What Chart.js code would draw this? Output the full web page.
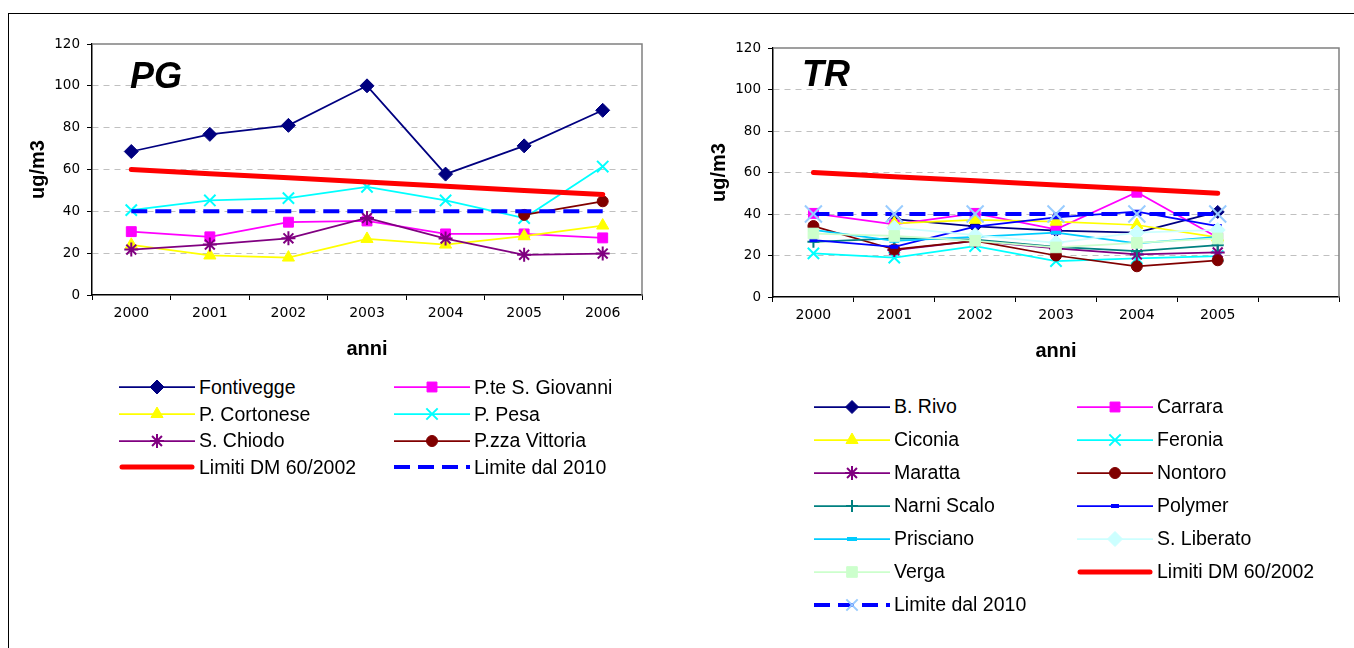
<!DOCTYPE html>
<html>
<head>
<meta charset="utf-8">
<script src="https://cdn.jsdelivr.net/npm/chart.js@4.4.1/dist/chart.umd.min.js"></script>
<style>
html, body { margin: 0; padding: 0; background: #fff; width: 1354px; height: 648px; overflow: hidden; position: relative; }
#cornice { position: absolute; left: 8px; top: 13px; width: 1400px; height: 700px; border: 1.5px solid #000; }
.wrap { position: absolute; top: 0; height: 370px; }
#wrapPG { left: 0; width: 670px; }
#wrapTR { left: 680px; width: 674px; }
.sigla { position: absolute; font: italic bold 36px "Liberation Sans", Arial, sans-serif; line-height: 36px; color: #000; }
.legenda { position: absolute; display: grid; font: 19.5px "Liberation Sans", Arial, sans-serif; color: #000; }
.voce { display: flex; align-items: center; white-space: nowrap; }
.voce canvas { margin-right: 3px; }
</style>
</head>
<body>
<div id="cornice"></div>
<div class="wrap" id="wrapPG"><canvas id="chartPG" width="670" height="370"></canvas></div>
<div class="wrap" id="wrapTR"><canvas id="chartTR" width="674" height="370"></canvas></div>
<div class="sigla" style="left:130px; top:58px;">PG</div>
<div class="sigla" style="left:802px; top:56px;">TR</div>
<div class="legenda" id="legendaPG" style="left:118px; top:374px; grid-template-columns: 275px auto; grid-auto-rows: 26.7px;"></div>
<div class="legenda" id="legendaTR" style="left:813px; top:390px; grid-template-columns: 263px auto; grid-auto-rows: 33px;"></div>

<script>
// anni
const anniPG = ['2000', '2001', '2002', '2003', '2004', '2005', '2006'];
const anniTR = ['2000', '2001', '2002', '2003', '2004', '2005', ''];
const tickY = [0, 20, 40, 60, 80, 100, 120];

// Perugia
const fontivegge = [68.6, 76.8, 81.1, 100, 57.8, 71.3, 88.3];
const pteSGiovanni = [30.3, 27.8, 34.8, 35.4, 29.2, 29.2, 27.3];
const pCortonese = [24, 18.9, 17.9, 26.8, 24.1, 28.1, 33.2];
const pPesa = [40.6, 45.2, 46.3, 51.7, 45.2, 36.8, 61.4];
const sChiodo = [21.7, 24.1, 27.1, 36.8, 27, 19.2, 19.8];
const pzzaVittoria = [null, null, null, null, null, 38.3, 44.8];
const limitiPG = [60, 58, 56, 54, 52, 50, 48];
const limite2010PG = [40, 40, 40, 40, 40, 40, 40];

// Terni
const bRivo = [null, 37.5, 34, 32, 31, 41];
const carrara = [40.3, 35, 40.3, 32.6, 50.5, 28.7];
const ciconia = [null, 35.5, 37.2, 36.3, 34.7, 28.7];
const feronia = [21, 19, 24.5, 17.3, 18.6, 19.7];
const maratta = [null, 22.6, 27, 23.4, 20.5, 21.5];
const nontoro = [34.2, 22.9, 27.1, 20, 14.8, 17.7];
const narniScalo = [26.6, 28.2, 27.7, 24.2, 22.1, 25];
const polymer = [27.4, 24.2, 33.9, 38.4, 41.1, 34.2];
const prisciano = [32.3, 27.1, 29, 31, 25.8, 29];
const sLiberato = [null, 33.4, 29.8, 26.1, 31, 32.3];
const verga = [30.6, 29.4, 27.1, 23.9, 26.1, 28.2];
const limitiTR = [60, 58, 56, 54, 52, 50];
const limite2010TR = [40, 40, 40, 40, 40, 40];

const serieRosso = { color: '#FF0000', width: 5, cap: 'round', radius: 0 };
const serieBlu = { color: '#0000FF', width: 4, dash: [16, 8], radius: 0 };

const seriePG = [
    { label: 'Fontivegge', data: fontivegge, color: '#000080', style: 'rectRot', radius: 7 },
    { label: 'P.te S. Giovanni', data: pteSGiovanni, color: '#FF00FF', style: 'rect', radius: 7 },
    { label: 'P. Cortonese', data: pCortonese, color: '#FFFF00', style: 'triangle', radius: 7 },
    { label: 'P. Pesa', data: pPesa, color: '#00FFFF', style: 'crossRot', radius: 8 },
    { label: 'S. Chiodo', data: sChiodo, color: '#800080', style: 'star', radius: 7 },
    { label: 'P.zza Vittoria', data: pzzaVittoria, color: '#800000', style: 'circle', radius: 5.5 },
    Object.assign({ label: 'Limiti DM 60/2002', data: limitiPG }, serieRosso),
    Object.assign({ label: 'Limite dal 2010', data: limite2010PG }, serieBlu)
];

const serieTR = [
    { label: 'B. Rivo', data: bRivo, color: '#000080', style: 'rectRot', radius: 6.5 },
    { label: 'Carrara', data: carrara, color: '#FF00FF', style: 'rect', radius: 7 },
    { label: 'Ciconia', data: ciconia, color: '#FFFF00', style: 'triangle', radius: 7 },
    { label: 'Feronia', data: feronia, color: '#00FFFF', style: 'crossRot', radius: 8 },
    { label: 'Maratta', data: maratta, color: '#800080', style: 'star', radius: 7 },
    { label: 'Nontoro', data: nontoro, color: '#800000', style: 'circle', radius: 5.5 },
    { label: 'Narni Scalo', data: narniScalo, color: '#008080', style: 'cross', radius: 6 },
    { label: 'Polymer', data: polymer, color: '#0000FF', style: 'line', radius: 4, pw: 4 },
    { label: 'Prisciano', data: prisciano, color: '#00CCFF', style: 'line', radius: 5, pw: 4 },
    { label: 'S. Liberato', data: sLiberato, color: '#CCFFFF', style: 'rectRot', radius: 7.5 },
    { label: 'Verga', data: verga, color: '#CCFFCC', style: 'rect', radius: 7.5 },
    Object.assign({ label: 'Limiti DM 60/2002', data: limitiTR }, serieRosso),
    Object.assign({ label: 'Limite dal 2010', data: limite2010TR }, serieBlu,
        { style: 'crossRot', radius: 12, markerColor: '#99CCFF', pw: 2 })
];

const linee = ['crossRot', 'cross', 'star', 'line'];

// bordo grigio sopra e a destra dell'area del grafico
const bordoArea = {
    id: 'bordoArea',
    beforeDatasetsDraw(chart) {
        const a = chart.chartArea, c = chart.ctx;
        c.save();
        c.strokeStyle = '#808080';
        c.lineWidth = 1.5;
        c.beginPath();
        c.moveTo(a.left, a.top);
        c.lineTo(a.right, a.top);
        c.lineTo(a.right, a.bottom);
        c.stroke();
        c.restore();
    }
};

function creaDataset(s, i, n) {
    const mc = s.markerColor || s.color;
    const soloLinea = linee.indexOf(s.style) >= 0;
    return {
        label: s.label,
        data: s.data,
        borderColor: s.color,
        backgroundColor: s.color,
        borderWidth: s.width || 1.75,
        borderDash: s.dash || [],
        borderCapStyle: s.cap || 'butt',
        pointStyle: s.style || 'circle',
        pointRadius: s.style ? s.radius : 0,
        pointHoverRadius: s.style ? s.radius : 0,
        pointBackgroundColor: mc,
        pointBorderColor: mc,
        pointBorderWidth: s.pw || (soloLinea ? 2 : 1),
        tension: 0,
        spanGaps: false,
        clip: false,
        order: n - i
    };
}

function creaGrafico(id, etichette, serie, pad) {
    const ctx = document.getElementById(id).getContext('2d');
    return new Chart(ctx, {
        type: 'line',
        data: {
            labels: etichette,
            datasets: serie.map((s, i) => creaDataset(s, i, serie.length))
        },
        options: {
            responsive: false,
            animation: false,
            devicePixelRatio: 1,
            layout: { padding: pad },
            plugins: { legend: { display: false }, tooltip: { enabled: false } },
            scales: {
                x: {
                    offset: true,
                    grid: { offset: true, drawOnChartArea: false, tickColor: '#000', tickLength: 5 },
                    border: { color: '#000', width: 1.5 },
                    ticks: { color: '#000', padding: 5, font: { family: 'DejaVu Sans', size: 14 }, maxRotation: 0 },
                    title: { display: true, text: 'anni', color: '#000', padding: 0,
                        font: { family: 'Liberation Sans', size: 20, weight: 'bold' } },
                    afterFit: function(scale) { scale.height = 66; }
                },
                y: {
                    min: 0,
                    max: 120,
                    afterBuildTicks: function(scale) { scale.ticks = tickY.map(v => ({ value: v })); },
                    grid: {
                        color: c => (c.tick && (c.tick.value === 0 || c.tick.value === 120)) ? 'rgba(0,0,0,0)' : '#C0C0C0',
                        tickColor: '#000',
                        tickLength: 5,
                        lineWidth: 1
                    },
                    border: { color: '#000', width: 1.5, dash: [6, 5] },
                    ticks: { color: '#000', padding: 7, font: { family: 'DejaVu Sans', size: 13.5 } },
                    title: { display: true, text: 'ug/m3', color: '#000', padding: { top: 6, bottom: 0 },
                        font: { family: 'Liberation Sans', size: 20, weight: 'bold' } },
                    afterFit: function(scale) { scale.width = 72; }
                }
            }
        },
        plugins: [bordoArea]
    });
}

// piccolo campione di linea + simbolo per la legenda
function creaLegenda(idDiv, serie) {
    const div = document.getElementById(idDiv);
    serie.forEach(function(s) {
        const voce = document.createElement('div');
        voce.className = 'voce';
        const cv = document.createElement('canvas');
        cv.width = 78;
        cv.height = 22;
        const c = cv.getContext('2d');
        c.strokeStyle = s.color;
        c.lineWidth = s.width || 1.75;
        c.lineCap = s.cap || 'butt';
        c.setLineDash(s.dash || []);
        c.beginPath();
        c.moveTo(s.cap ? 4 : 1, 11);
        c.lineTo(s.cap ? 74 : 77, 11);
        c.stroke();
        c.setLineDash([]);
        if (s.style) {
            const mc = s.markerColor || s.color;
            c.fillStyle = mc;
            c.strokeStyle = mc;
            const bw = s.pw || (linee.indexOf(s.style) >= 0 ? 2 : 1);
            c.lineWidth = bw;
            Chart.helpers.drawPoint(c, { pointStyle: s.style, radius: Math.min(s.radius, 8), rotation: 0, borderWidth: bw }, 39, 11);
        }
        const testo = document.createElement('span');
        testo.textContent = s.label;
        voce.appendChild(cv);
        voce.appendChild(testo);
        div.appendChild(voce);
    });
}

document.addEventListener('DOMContentLoaded', function() {
    creaGrafico('chartPG', anniPG, seriePG, { left: 20, right: 28, top: 44, bottom: 9 });
    creaGrafico('chartTR', anniTR, serieTR, { left: 21, right: 15, top: 48, bottom: 7 });
    creaLegenda('legendaPG', seriePG);
    creaLegenda('legendaTR', serieTR);
});
</script>
</body>
</html>
